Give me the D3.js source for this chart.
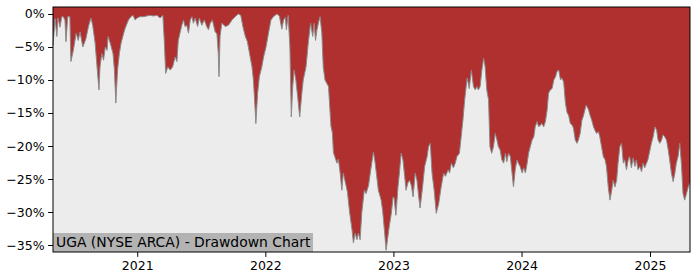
<!DOCTYPE html>
<html>
<head>
<meta charset="utf-8">
<script src="https://cdn.jsdelivr.net/npm/d3@7"></script>
<style>
  body { margin: 0; background: #fff; }
  text { font-family: 'DejaVu Sans', sans-serif; }
</style>
</head>
<body>
<svg width="700" height="280"></svg>
<script>
const svg = d3.select('svg');
const MARGIN = { TOP: 7, RIGHT: 10, BOTTOM: 28, LEFT: 53 };
const WIDTH = +svg.attr('width') - MARGIN.LEFT - MARGIN.RIGHT;
const HEIGHT = +svg.attr('height') - MARGIN.TOP - MARGIN.BOTTOM;

const TITLE = 'UGA (NYSE ARCA) - Drawdown Chart';
const Y_TICKS = [0, -5, -10, -15, -20, -25, -30, -35];
const X_TICKS = ['2021-01-01', '2022-01-01', '2023-01-01', '2024-01-01', '2025-01-01'];

// drawdown in percent
const dates2020 = ['2020-05-06','2020-05-12','2020-05-17','2020-05-20','2020-05-26','2020-05-31','2020-06-04','2020-06-09','2020-06-12','2020-06-17','2020-06-23','2020-06-26','2020-07-03','2020-07-11','2020-07-17','2020-07-22','2020-07-30','2020-08-02','2020-08-08','2020-08-15','2020-08-22','2020-08-27','2020-09-03','2020-09-10','2020-09-14','2020-09-17','2020-09-22','2020-09-27','2020-10-02','2020-10-07','2020-10-10','2020-10-16','2020-10-24','2020-10-28','2020-11-01','2020-11-06','2020-11-11','2020-11-16','2020-11-21','2020-11-26','2020-12-01','2020-12-07','2020-12-14','2020-12-20','2020-12-26'];
const dd2020 = [-4.8,-0.7,-3.4,-0.6,-2.0,-0.4,-0.4,-0.9,-4.2,-0.4,-0.4,-7.2,-5.5,-2.9,-4.0,-2.7,-5.0,-4.6,-3.7,-1.9,-0.6,-1.7,-4.4,-9.0,-11.5,-8.0,-6.0,-7.0,-5.0,-5.5,-3.4,-4.4,-6.0,-8.5,-13.5,-8.5,-6.0,-4.4,-3.4,-2.4,-1.7,-0.9,-0.4,-0.2,-0.9];

const dates2021 = ['2021-01-01','2021-01-09','2021-01-19','2021-01-28','2021-02-06','2021-02-16','2021-02-26','2021-03-07','2021-03-15','2021-03-19','2021-03-23','2021-03-29','2021-04-05','2021-04-12','2021-04-19','2021-04-24','2021-04-28','2021-05-08','2021-05-13','2021-05-17','2021-05-22','2021-05-27','2021-06-01','2021-06-06','2021-06-10','2021-06-15','2021-06-22','2021-06-27','2021-07-04','2021-07-11','2021-07-18','2021-07-23','2021-07-28','2021-08-03','2021-08-11','2021-08-16','2021-08-20','2021-08-22','2021-08-25','2021-08-30','2021-09-09','2021-09-18','2021-09-28','2021-10-07','2021-10-16','2021-10-23','2021-10-29','2021-11-05','2021-11-11','2021-11-17','2021-11-24','2021-11-28','2021-12-03','2021-12-05','2021-12-10','2021-12-15','2021-12-22','2021-12-27'];
const dd2021 = [-0.6,-0.4,-0.4,-0.3,-0.2,-0.3,-0.2,-0.6,-0.2,-4.0,-9.0,-8.0,-8.5,-8.0,-6.5,-7.2,-4.0,-1.7,-0.9,-1.9,-1.7,-2.9,-0.9,-0.4,-1.4,-0.6,-1.9,-0.6,-1.7,-0.9,-1.9,-2.4,-1.4,-0.9,-2.7,-3.0,-6.0,-9.5,-3.4,-1.4,-1.9,-1.7,-0.9,-0.4,0,-0.2,-1.9,-3.4,-4.2,-6.0,-8.0,-10.0,-14.5,-16.6,-12.0,-9.5,-8.0,-6.5];

const dates2022 = ['2022-01-03','2022-01-10','2022-01-17','2022-01-24','2022-02-03','2022-02-10','2022-02-17','2022-02-22','2022-02-27','2022-03-02','2022-03-07','2022-03-12','2022-03-16','2022-03-20','2022-03-24','2022-03-29','2022-04-03','2022-04-09','2022-04-15','2022-04-19','2022-04-27','2022-05-04','2022-05-10','2022-05-16','2022-05-20','2022-05-24','2022-05-28','2022-06-02','2022-06-06','2022-06-11','2022-06-15','2022-06-20','2022-06-30','2022-07-04','2022-07-07','2022-07-11','2022-07-14','2022-07-24','2022-07-28','2022-08-02','2022-08-07','2022-08-11','2022-08-19','2022-08-23','2022-08-29','2022-09-05','2022-09-09','2022-09-14','2022-09-19','2022-09-23','2022-09-28','2022-10-03','2022-10-10','2022-10-15','2022-10-22','2022-10-27','2022-11-05','2022-11-10','2022-11-19','2022-11-27','2022-12-01','2022-12-07','2022-12-11','2022-12-15','2022-12-20','2022-12-26','2022-12-31'];
const dd2022 = [-5.0,-2.9,-0.9,-0.4,0,-0.3,-2.3,-0.9,-0.5,-2.4,-0.2,-5.0,-15.6,-11.0,-8.5,-10.0,-12.5,-15.6,-12.0,-10.0,-8.0,-4.0,-1.4,-3.4,-1.4,-4.0,-2.4,-1.2,-0.4,-2.9,-8.0,-10.0,-11.0,-14.5,-17.0,-18.0,-21.0,-22.6,-22.0,-24.0,-26.7,-24.1,-26.0,-27.0,-30.0,-32.7,-34.7,-33.2,-34.2,-33.2,-34.2,-30.0,-26.7,-27.2,-26.0,-24.1,-20.9,-22.6,-26.7,-28.2,-29.7,-33.2,-35.8,-34.2,-32.2,-30.2,-27.7];

const dates2023 = ['2023-01-03','2023-01-08','2023-01-14','2023-01-18','2023-01-23','2023-01-28','2023-02-02','2023-02-06','2023-02-11','2023-02-16','2023-02-21','2023-02-26','2023-03-04','2023-03-09','2023-03-14','2023-03-18','2023-03-25','2023-03-31','2023-04-07','2023-04-11','2023-04-16','2023-04-21','2023-04-27','2023-05-03','2023-05-10','2023-05-17','2023-05-24','2023-05-29','2023-06-06','2023-06-10','2023-06-15','2023-06-21','2023-06-26','2023-07-01','2023-07-08','2023-07-13','2023-07-18','2023-07-23','2023-07-30','2023-08-05','2023-08-11','2023-08-17','2023-08-22','2023-08-27','2023-08-31','2023-09-05','2023-09-10','2023-09-15','2023-09-19','2023-09-24','2023-09-29','2023-10-03','2023-10-08','2023-10-13','2023-10-18','2023-10-23','2023-10-27','2023-11-01','2023-11-06','2023-11-11','2023-11-16','2023-11-20','2023-11-25','2023-11-30','2023-12-05','2023-12-09','2023-12-14','2023-12-19','2023-12-23','2023-12-28'];
const dd2023 = [-27.9,-30.5,-26.2,-24.1,-21.1,-22.1,-24.6,-26.7,-25.6,-25.2,-26.0,-27.7,-24.1,-25.2,-27.7,-29.4,-26.2,-23.1,-21.6,-20.1,-19.6,-24.1,-26.7,-30.2,-28.7,-26.2,-24.1,-24.6,-23.6,-24.1,-22.6,-23.3,-22.6,-21.6,-21.1,-18.6,-16.1,-13.0,-9.7,-11.3,-8.5,-11.0,-11.5,-11.0,-11.5,-11.0,-8.5,-6.7,-7.9,-11.5,-13.0,-20.1,-21.1,-20.1,-18.1,-19.1,-20.1,-20.6,-22.1,-22.6,-21.1,-22.4,-21.1,-21.6,-24.1,-26.2,-23.6,-22.1,-22.6,-23.1];

const dates2024 = ['2024-01-03','2024-01-07','2024-01-12','2024-01-17','2024-01-21','2024-01-26','2024-01-31','2024-02-05','2024-02-09','2024-02-14','2024-02-19','2024-02-24','2024-02-28','2024-03-04','2024-03-09','2024-03-14','2024-03-18','2024-03-23','2024-03-28','2024-04-02','2024-04-07','2024-04-11','2024-04-16','2024-04-21','2024-04-25','2024-04-30','2024-05-05','2024-05-10','2024-05-14','2024-05-19','2024-05-24','2024-05-28','2024-06-02','2024-06-07','2024-06-11','2024-06-16','2024-06-21','2024-06-25','2024-07-03','2024-07-10','2024-07-14','2024-07-19','2024-07-24','2024-07-28','2024-08-02','2024-08-07','2024-08-11','2024-08-16','2024-08-21','2024-08-26','2024-08-30','2024-09-04','2024-09-09','2024-09-14','2024-09-18','2024-09-23','2024-09-28','2024-10-02','2024-10-07','2024-10-12','2024-10-17','2024-10-21','2024-10-26','2024-10-31','2024-11-04','2024-11-09','2024-11-14','2024-11-19','2024-11-23','2024-11-28','2024-12-03','2024-12-08','2024-12-12','2024-12-17','2024-12-22','2024-12-26'];
const dd2024 = [-24.1,-23.3,-24.1,-22.6,-21.1,-20.1,-19.1,-18.6,-17.1,-16.3,-17.1,-16.8,-16.6,-17.1,-16.3,-14.5,-12.0,-11.5,-11.3,-10.0,-9.5,-8.7,-8.5,-10.0,-9.7,-10.3,-13.5,-15.0,-15.3,-16.6,-16.8,-17.3,-19.1,-19.6,-19.1,-18.1,-16.1,-15.5,-13.8,-14.5,-15.3,-16.1,-17.1,-17.6,-18.1,-17.8,-18.6,-20.1,-21.6,-22.1,-23.1,-26.2,-28.2,-26.7,-25.2,-26.2,-25.2,-22.6,-20.1,-19.6,-22.6,-22.1,-23.6,-22.1,-21.6,-23.3,-21.8,-23.1,-22.1,-23.6,-23.1,-23.9,-22.6,-23.3,-22.6,-22.1];

const dates2025 = ['2025-01-01','2025-01-05','2025-01-10','2025-01-15','2025-01-20','2025-01-24','2025-01-29','2025-02-03','2025-02-07','2025-02-12','2025-02-17','2025-02-22','2025-02-26','2025-03-03','2025-03-08','2025-03-13','2025-03-17','2025-03-22','2025-03-27','2025-04-01','2025-04-05','2025-04-10','2025-04-15','2025-04-20','2025-04-25'];
const dd2025 = [-20.6,-19.6,-18.6,-17.1,-17.6,-19.1,-19.6,-19.1,-18.3,-18.6,-19.1,-20.6,-22.1,-24.1,-25.4,-24.1,-22.6,-21.6,-19.6,-23.1,-27.2,-28.2,-27.2,-26.2,-25.5];

const parseDate = d3.timeParse('%Y-%m-%d');
const dates = [].concat(dates2020, dates2021, dates2022, dates2023, dates2024, dates2025);
const values = [].concat(dd2020, dd2021, dd2022, dd2023, dd2024, dd2025);
const data = dates.map((d, i) => ({ date: parseDate(d), dd: values[i] }));

const g = svg
  .append('g')
  .attr('transform', `translate(${MARGIN.LEFT}, ${MARGIN.TOP})`);

// scales
const x = d3.scaleTime().domain(d3.extent(data, d => d.date)).range([0, WIDTH]);
const y = d3.scaleLinear().domain([-36.06, 1.06]).range([HEIGHT, 0]);

g.append('rect')
  .attr('width', WIDTH)
  .attr('height', HEIGHT)
  .attr('fill', '#ececec');

// red area hangs from the top of the plot down to the drawdown line
const area = d3
  .area()
  .x(d => x(d.date))
  .y0(0)
  .y1(d => y(d.dd));

g.append('path')
  .datum(data)
  .attr('fill', '#b03030')
  .attr('d', area);

const line = d3
  .line()
  .x(d => x(d.date))
  .y(d => y(d.dd));

g.append('path')
  .datum(data)
  .attr('fill', 'none')
  .attr('stroke', '#8a8a8a')
  .attr('stroke-width', 1)
  .attr('d', line);

// title box
const label = g.append('g').attr('transform', `translate(0, ${HEIGHT})`);
label.append('rect')
  .attr('x', 0)
  .attr('y', -19)
  .attr('width', 260)
  .attr('height', 19)
  .attr('fill', '#b3b3b3');
label.append('text')
  .attr('x', 3)
  .attr('y', -5)
  .style('font-size', '13.9px')
  .style('fill', '#000')
  .text(TITLE);

// axes
const xAxis = g.append('g')
  .attr('transform', `translate(0, ${HEIGHT})`)
  .call(d3.axisBottom(x)
    .tickValues(X_TICKS.map(parseDate))
    .tickFormat(d3.timeFormat('%Y'))
    .tickSize(4.9)
    .tickPadding(4));

const yAxis = g.append('g')
  .call(d3.axisLeft(y)
    .tickValues(Y_TICKS)
    .tickFormat(d => (d === 0 ? '0%' : '\u2212' + Math.abs(d) + '%'))
    .tickSize(4.9)
    .tickPadding(3.5));

[xAxis, yAxis].forEach(a => {
  a.select('.domain').remove();
  a.selectAll('line').attr('stroke', '#000').attr('stroke-width', 1);
  a.selectAll('text')
    .style('font-family', "'DejaVu Sans', sans-serif")
    .style('font-size', '12.5px')
    .attr('fill', '#000');
});

g.append('rect')
  .attr('width', WIDTH)
  .attr('height', HEIGHT)
  .attr('fill', 'none')
  .attr('stroke', '#000')
  .attr('stroke-width', 1);
</script>
</body>
</html>
